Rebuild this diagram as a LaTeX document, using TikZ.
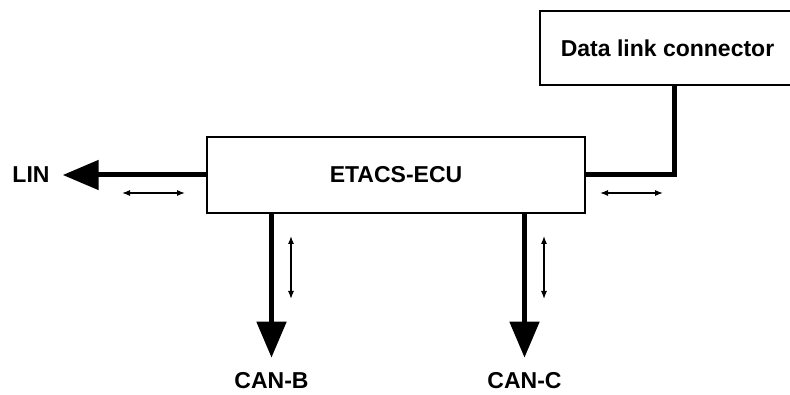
\documentclass[tikz,border=0pt]{standalone}
\usepackage{fontspec}
\setmainfont{Liberation Sans}
\usetikzlibrary{arrows.meta, positioning}

\begin{document}
\begin{tikzpicture}[x=1pt, y=-1pt,
    box/.style={draw, line width=1.8pt, font=\fontsize{23}{27}\selectfont\bfseries},
    lbl/.style={inner sep=0pt, font=\fontsize{23}{27}\selectfont\bfseries},
    bus/.style={line width=5pt, -{Triangle[length=36pt,width=29pt]}},
    link/.style={line width=5pt},
    dirarrow/.style={line width=1.1pt, {Latex[length=8pt,width=6pt]}-{Latex[length=8pt,width=6pt]}}
    ]
    \useasboundingbox (0,0) rectangle (790,395);
    \node[box, minimum width=378pt, minimum height=76pt] (ecu) at (396,175) {ETACS-ECU};
    \node[box, minimum width=255pt, minimum height=74pt] (dlc) at (667.5,48) {Data link connector};
    \node[lbl] (lin) at (31,175) {LIN};
    \node[lbl] (canb) at (271.5,381) {CAN-B};
    \node[lbl] (canc) at (524.5,381) {CAN-C};
    % buses
    \draw[bus, shorten >=13pt] (ecu.west) -- (lin.east);
    \draw[bus, shorten >=15pt] (ecu.south -| canb.north) -- (canb.north);
    \draw[bus, shorten >=15pt] (ecu.south -| canc.north) -- (canc.north);
    \draw[link] (ecu.east) -| ([xshift=7pt]dlc.south);
    % direction marks
    \draw[dirarrow] (122,193) -- (185,193);
    \draw[dirarrow] (600,193) -- (663,193);
    \draw[dirarrow] (291,236) -- (291,299);
    \draw[dirarrow] (544,236) -- (544,299);
\end{tikzpicture}
\end{document}
